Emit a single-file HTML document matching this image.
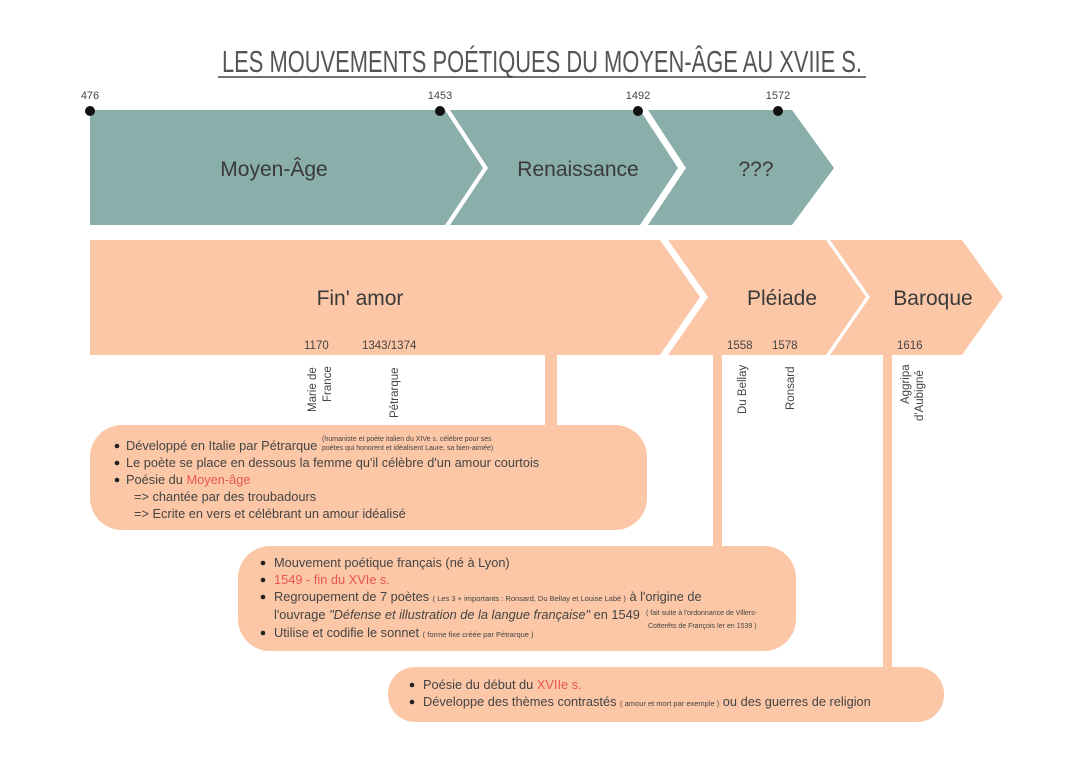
<!DOCTYPE html>
<html><head><meta charset="utf-8"><style>
html,body{margin:0;padding:0;background:#fff;}
svg{display:block;font-family:"Liberation Sans",sans-serif;}
.b{font-size:12.8px;fill:#444}
.s{font-size:7px;fill:#444}
.r{fill:#e8574f}
</style></head><body>
<svg width="1080" height="763" viewBox="0 0 1080 763" xmlns="http://www.w3.org/2000/svg">
<rect width="1080" height="763" fill="#fff"/>
<text x="542" y="72" text-anchor="middle" font-size="31" fill="#555" textLength="640" lengthAdjust="spacingAndGlyphs">LES MOUVEMENTS POÉTIQUES DU MOYEN-ÂGE AU XVIIE S.</text>
<line x1="218" y1="77" x2="866" y2="77" stroke="#444" stroke-width="1.5"/>
<g fill="#8aaea9">
<polygon points="90,110 445,110 483,168 445,225 90,225"/>
<polygon points="450,110 640,110 678,168 640,225 450,225 488,168"/>
<polygon points="648,110 792,110 834,168 792,225 648,225 686,168"/>
</g>
<g font-size="11" fill="#444">
<text x="90" y="99" text-anchor="middle">476</text>
<text x="440" y="99" text-anchor="middle">1453</text>
<text x="638" y="99" text-anchor="middle">1492</text>
<text x="778" y="99" text-anchor="middle">1572</text>
</g>
<g fill="#111"><circle cx="90" cy="111" r="5"/><circle cx="440" cy="111" r="5"/><circle cx="638" cy="111" r="5"/><circle cx="778" cy="111" r="5"/></g>
<g font-size="21" fill="#3a3a3a" text-anchor="middle">
<text x="274" y="176">Moyen-Âge</text>
<text x="578" y="176">Renaissance</text>
<text x="756" y="176">???</text>
</g>
<g fill="#fcc7a6">
<polygon points="90,240 660,240 700,297 660,355 90,355"/>
<polygon points="668,240 826,240 866,297 826,355 668,355 708,297"/>
<polygon points="830,240 962,240 1003,297 962,355 830,355 870,297"/>
<rect x="545" y="350" width="12" height="80"/>
<rect x="713" y="350" width="9" height="200"/>
<rect x="883" y="350" width="9" height="320"/>
<rect x="90" y="425" width="557" height="105" rx="32"/>
<rect x="238" y="546" width="558" height="105" rx="32"/>
<rect x="388" y="667" width="556" height="55" rx="27"/>
</g>
<g font-size="21" fill="#3a3a3a" text-anchor="middle">
<text x="360" y="305">Fin' amor</text>
<text x="782" y="305">Pléiade</text>
<text x="933" y="305">Baroque</text>
</g>
<g font-size="11.5" fill="#444">
<text x="304" y="349">1170</text>
<text x="362" y="349">1343/1374</text>
<text x="727" y="349">1558</text>
<text x="772" y="349">1578</text>
<text x="897" y="349">1616</text>
</g>
<g font-size="11.5" fill="#444">
<text transform="translate(316,412) rotate(-90)">Marie de</text>
<text transform="translate(331,402) rotate(-90)">France</text>
<text transform="translate(398,418) rotate(-90)">Pétrarque</text>
<text transform="translate(746,414) rotate(-90)">Du Bellay</text>
<text transform="translate(794,410) rotate(-90)">Ronsard</text>
<text transform="translate(909,404) rotate(-90)">Aggripa</text>
<text transform="translate(923,421) rotate(-90)">d'Aubigné</text>
</g>
<g fill="#222"><circle cx="117" cy="446" r="2.3"/><circle cx="117" cy="463" r="2.3"/><circle cx="117" cy="480" r="2.3"/></g>
<text class="b" x="126" y="450">Développé en Italie par Pétrarque</text>
<text class="s" x="322" y="441">(humaniste et poète italien du XIVe s. célèbre pour ses</text>
<text class="s" x="322" y="450">poètes qui honorent et idéalisent Laure, sa bien-aimée)</text>
<text class="b" x="126" y="467">Le poète se place en dessous la femme qu'il célèbre d'un amour courtois</text>
<text class="b" x="126" y="484">Poésie du <tspan class="r">Moyen-âge</tspan></text>
<text class="b" x="134" y="501">=&gt; chantée par des troubadours</text>
<text class="b" x="134" y="518">=&gt; Ecrite en vers et célébrant un amour idéalisé</text>
<g fill="#222"><circle cx="263" cy="563" r="2.3"/><circle cx="263" cy="580" r="2.3"/><circle cx="263" cy="597" r="2.3"/><circle cx="263" cy="633" r="2.3"/></g>
<text class="b" x="274" y="567">Mouvement poétique français (né à Lyon)</text>
<text class="b r" x="274" y="584">1549 - fin du XVIe s.</text>
<text class="b" x="274" y="601">Regroupement de 7 poètes <tspan style="font-size:7.5px">( Les 3 + importants : Ronsard, Du Bellay et Louise Labé )</tspan>  à l'origine de</text>
<text class="b" x="274" y="619">l'ouvrage <tspan font-style="italic">"Défense et illustration de la langue française"</tspan> en 1549</text>
<text class="s" x="646" y="615">( fait suite à l'ordonnance de Villers-</text>
<text class="s" x="648" y="628">Cotterêts de François Ier en 1539 )</text>
<text class="b" x="274" y="637">Utilise et codifie le sonnet <tspan style="font-size:7.5px">( forme fixe créée par Pétrarque )</tspan></text>
<g fill="#222"><circle cx="412" cy="685" r="2.3"/><circle cx="412" cy="702" r="2.3"/></g>
<text class="b" x="423" y="689">Poésie du début du <tspan class="r">XVIIe s.</tspan></text>
<text class="b" x="423" y="706">Développe des thèmes contrastés <tspan style="font-size:7.5px">( amour et mort par exemple )</tspan> ou des guerres de religion</text>
</svg>
</body></html>
